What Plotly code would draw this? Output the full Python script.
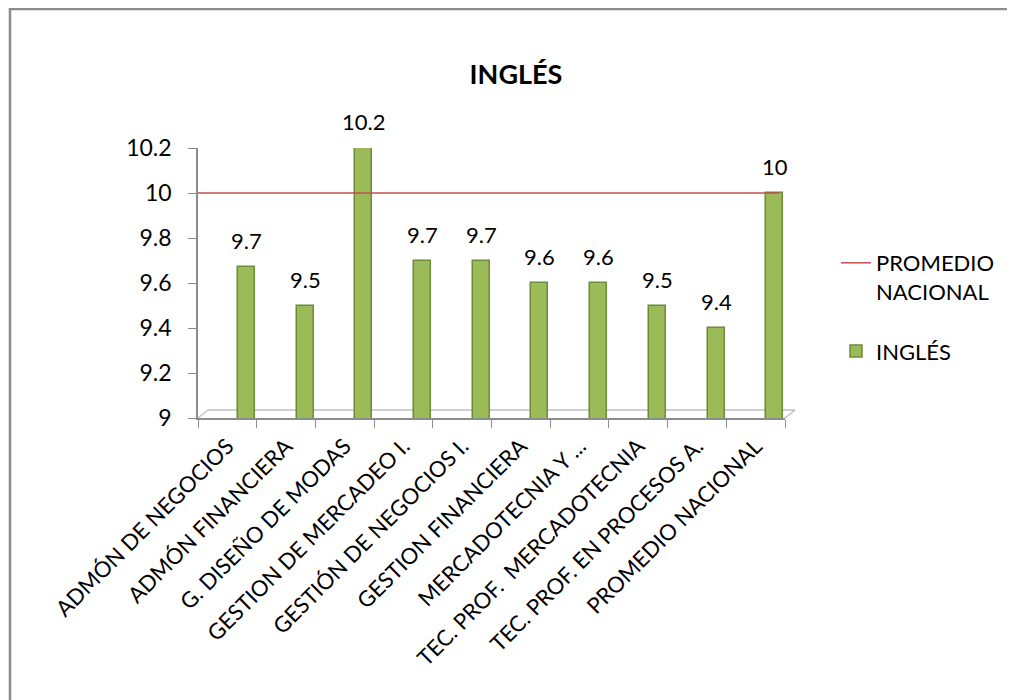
import plotly.graph_objects as go

categories = ["ADMÓN DE NEGOCIOS", "ADMÓN FINANCIERA", "G. DISEÑO DE MODAS",
              "GESTION DE MERCADEO I.", "GESTIÓN DE NEGOCIOS I.", "GESTION FINANCIERA",
              "MERCADOTECNIA Y ...", "TEC. PROF.  MERCADOTECNIA",
              "TEC. PROF. EN PROCESOS A.", "PROMEDIO NACIONAL"]
ingles = [9.67, 9.5, 10.2, 9.7, 9.7, 9.6, 9.6, 9.5, 9.4, 10.0]
promedio_x = [0, 9.9]
promedio_nacional = [10.0, 10.0]
y_ticks = [9, 9.2, 9.4, 9.6, 9.8, 10, 10.2]
y_ticktext = ["9", "9.2", "9.4", "9.6", "9.8", "10", "10.2"]

FONT = "Lato"
GREEN = "#9BBB59"
RED = "#C0504D"
GRAY = "#8C8C8C"

# page body has an 8px margin; plot area in figure px
L, T, W, H = 190, 140, 587, 270
FW, FH = 1015, 700

BAR_W = 0.29
BAR_OFF = 0.18

fig = go.Figure()
fig.add_trace(go.Scatter(
    x=promedio_x, y=promedio_nacional, mode="lines", xaxis="x2",
    name="PROMEDIO<br>NACIONAL", legendgroup="a", line=dict(color=RED, width=1.5),
))
fig.add_trace(go.Bar(
    x=categories, y=ingles, name="INGLÉS", legendgroup="b",
    marker=dict(color=GREEN, line=dict(color="#6E8A3C", width=1.5)),
    width=BAR_W, offset=BAR_OFF,
))

annotations = []
for c, v in zip(categories, ingles):
    annotations.append(dict(
        x=c, y=v, xref="x", yref="y", text=f"{round(v, 1):g}", showarrow=False,
        xanchor="center", yanchor="bottom",
        xshift=(BAR_OFF + BAR_W / 2) * W / 10, yshift=11,
        font=dict(family=FONT, size=22, color="#000000"),
    ))

fig.update_layout(
    width=FW, height=FH,
    margin=dict(l=L, r=FW - L - W, t=T, b=FH - T - H, autoexpand=False),
    paper_bgcolor="white", plot_bgcolor="white",
    font=dict(family=FONT, size=22, color="#000000"),
    title=dict(text="<b>INGLÉS</b>", x=508 / FW, xanchor="center",
               y=1 - 67 / FH, yanchor="middle",
               font=dict(family=FONT, size=27, color="#000000")),
    showlegend=True,
    legend=dict(x=(828 - L) / W, y=1 - (234 - T) / H, xanchor="left", yanchor="top",
                font=dict(family=FONT, size=22, color="#000000"),
                traceorder="grouped", tracegroupgap=28, valign="top",
                itemwidth=30, bgcolor="rgba(0,0,0,0)"),
    bargap=0.0,
    annotations=annotations,
    xaxis=dict(
        type="category", range=[-0.5, 9.5], automargin=False,
        showline=True, linecolor=GRAY, linewidth=1.5, ticklabelstandoff=5,
        ticks="outside", tickson="boundaries", ticklen=8, tickcolor=GRAY,
        tickangle=-45, showgrid=False, zeroline=False,
        tickfont=dict(family=FONT, size=22, color="#000000"),
    ),
    xaxis2=dict(overlaying="x", range=[0, 10], visible=False, showgrid=False),
    yaxis=dict(
        range=[9, 10.2], tickvals=y_ticks, ticktext=y_ticktext, automargin=False,
        showline=True, linecolor=GRAY, linewidth=1.5, ticklabelstandoff=12,
        ticks="outside", ticklen=8, tickcolor=GRAY, showgrid=False, zeroline=False,
        tickfont=dict(family=FONT, size=23, color="#000000"),
    ),
    shapes=[
        dict(type="rect", xref="paper", yref="paper",
             x0=(2 - L) / W, x1=2.0, y0=-2.0, y1=(T + H - 1) / H,
             line=dict(color=GRAY, width=2.5), fillcolor="rgba(0,0,0,0)", layer="below"),
        dict(type="line", xref="paper", yref="paper",
             x0=10 / W, x1=1.0 + 10 / W, y0=8 / H, y1=8 / H,
             line=dict(color="#BFBFBF", width=1.5), layer="below"),
        dict(type="line", xref="paper", yref="paper",
             x0=0, x1=10 / W, y0=0, y1=8 / H,
             line=dict(color="#BFBFBF", width=1.5), layer="below"),
        dict(type="line", xref="paper", yref="paper",
             x0=1.0, x1=1.0 + 10 / W, y0=0, y1=8 / H,
             line=dict(color="#BFBFBF", width=1.5), layer="below"),
    ],
)

fig.write_html("out.html")
